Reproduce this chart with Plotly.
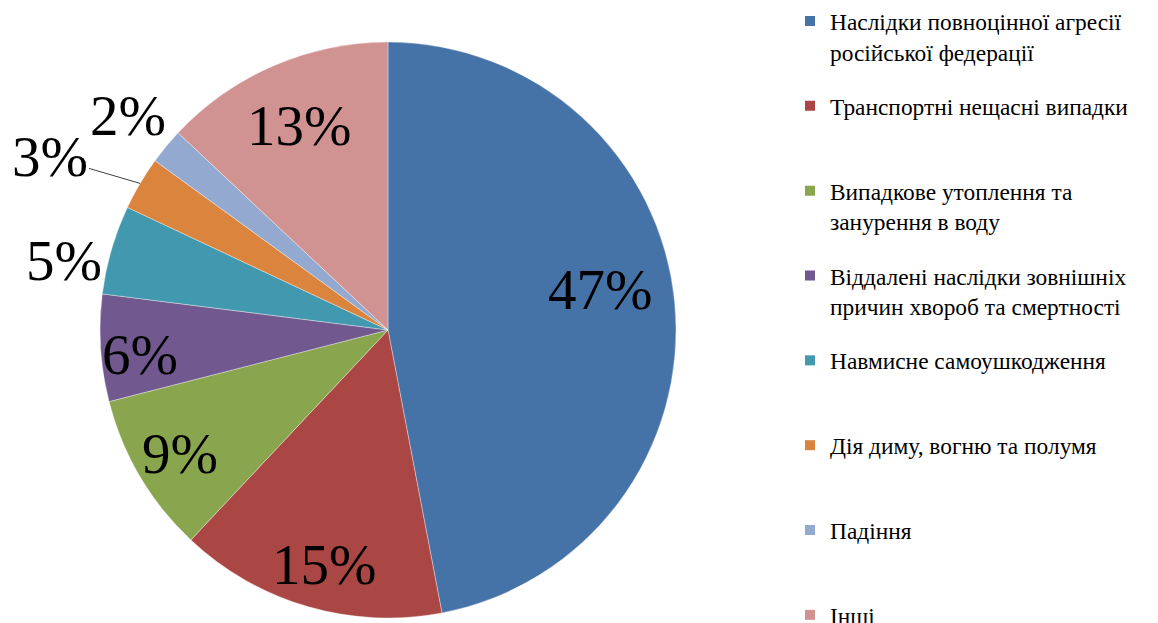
import math
import plotly.graph_objects as go

categories = [
    "Наслідки повноцінної агресії<br>російської федерації",
    "Транспортні нещасні випадки",
    "Випадкове утоплення та<br>занурення в воду",
    "Віддалені наслідки зовнішніх<br>причин хвороб та смертності",
    "Навмисне самоушкодження",
    "Дія диму, вогню та полумя",
    "Падіння",
    "Інші",
]
values = [47, 15, 9, 6, 5, 3, 2, 13]
colors = ["#4572A7", "#AA4643", "#89A54E", "#71588F", "#4198AF", "#DB843D", "#93A9CF", "#D19392"]

# label placement tuning (layout only): radial factor and angular nudge (deg)
label_radius = [0.75, 0.845, 0.84, 0.865, 1.15, 1.32, 1.17, 0.775]
label_nudge = [-5.3, -1.0, 0.0, -2.0, -4.0, -3.5, 0.0, 0.0]
label_leader = [False, False, False, False, False, True, False, False]

W, H = 1158, 623
OFF = 8  # page body margin
CX, CY, R = 388 - OFF, 330 - OFF, 288

fig = go.Figure()
fig.add_trace(go.Pie(
    labels=categories,
    values=values,
    sort=False,
    direction="clockwise",
    rotation=0,
    marker=dict(colors=colors, line=dict(color="rgba(255,255,255,0.6)", width=0.6)),
    textinfo="none",
    showlegend=False,
    domain=dict(x=[(CX - R) / W, (CX + R) / W], y=[1 - (CY + R) / H, 1 - (CY - R) / H]),
    hoverinfo="label+percent",
))

# legend entries
for i, (name, col) in enumerate(zip(categories, colors)):
    n = name.count("<br>") + 1
    lbl = name if n >= 2 or i == len(categories) - 1 else name + "<br> "
    fig.add_trace(go.Scatter(
        x=[None], y=[None], mode="markers",
        marker=dict(symbol="square", size=10, color=col),
        name=lbl, legendgroup=str(i), showlegend=True, hoverinfo="skip",
    ))

# percentage labels computed from the values
total = sum(values)
cum = 0.0
annotations = []
for i, v in enumerate(values):
    mid = (cum + v / 2) / total * 360.0
    cum += v
    ang = math.radians(mid + label_nudge[i])
    lx = CX + label_radius[i] * R * math.sin(ang)
    ly = CY - label_radius[i] * R * math.cos(ang)
    txt = f"{round(v / total * 100)}%"
    font = dict(family="Liberation Serif", size=57, color="black")
    if label_leader[i]:
        am = math.radians(mid)
        ex = CX + R * math.sin(am)
        ey = CY - R * math.cos(am)
        annotations.append(dict(
            x=ex / W, y=1 - ey / H, xref="paper", yref="paper",
            text=txt, font=font, showarrow=True, arrowhead=0,
            arrowwidth=1, arrowcolor="#404040",
            ax=lx - ex, ay=ly - ey, standoff=0, startstandoff=0,
        ))
    else:
        annotations.append(dict(
            x=lx / W, y=1 - ly / H, xref="paper", yref="paper",
            text=txt, font=font, showarrow=False,
            xanchor="center", yanchor="middle",
        ))

fig.update_layout(
    width=W,
    height=H,
    margin=dict(l=0, r=0, t=0, b=0, autoexpand=False),
    paper_bgcolor="white",
    plot_bgcolor="white",
    xaxis=dict(visible=False),
    yaxis=dict(visible=False),
    annotations=annotations,
    showlegend=True,
    legend=dict(
        x=(830 - 40 - OFF) / W,
        y=1.014,
        xanchor="left",
        yanchor="top",
        valign="top",
        font=dict(family="Liberation Serif", size=23.4, color="black"),
        tracegroupgap=21,
        bgcolor="rgba(0,0,0,0)",
        traceorder="grouped",
        maxheight=2000,
    ),
)

fig.write_html("out.html")
